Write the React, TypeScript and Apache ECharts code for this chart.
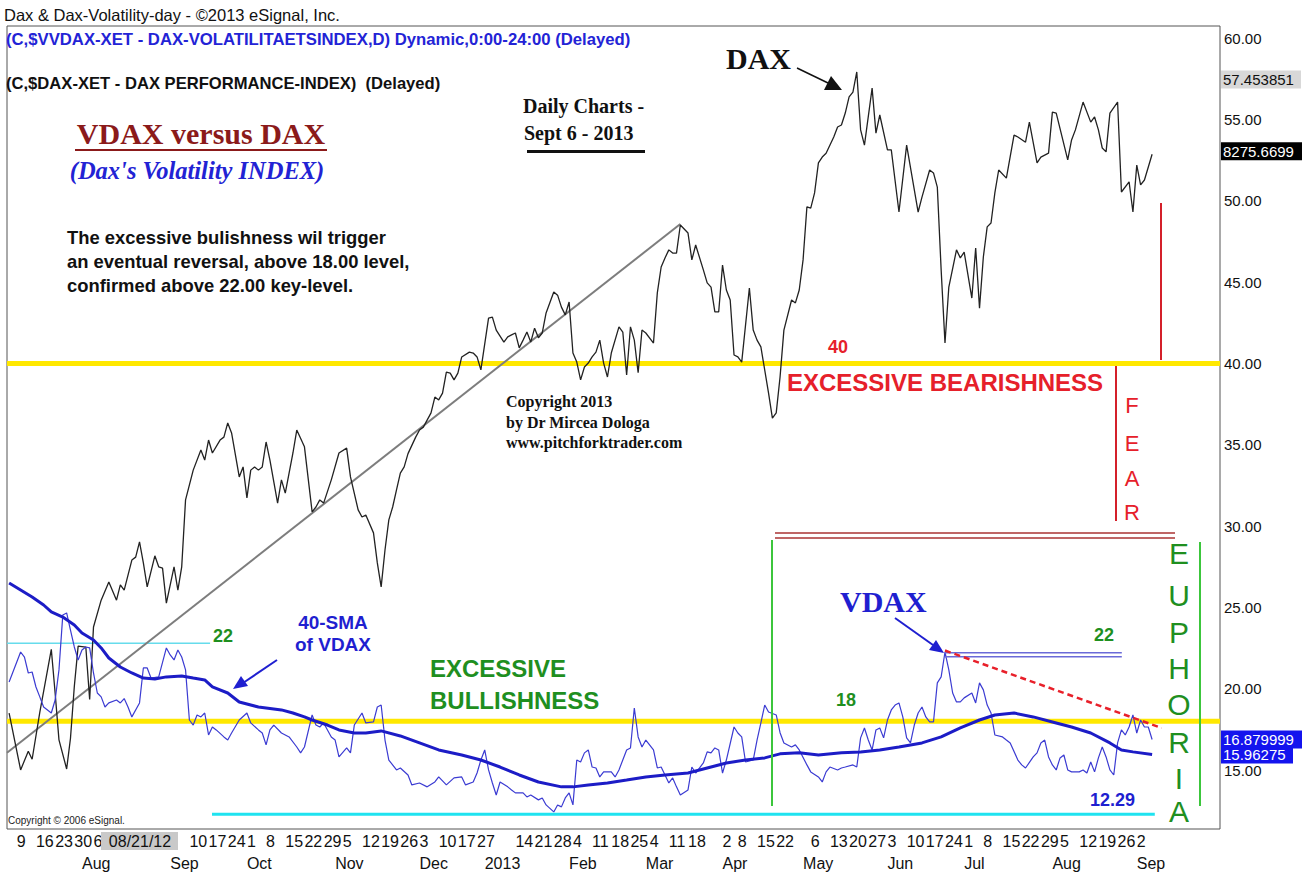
import { useEffect, useRef } from "react";
import * as echarts from "echarts";

// ---- DATA (x = trading-day index, 0 = 9 Jul 2012) ----
const daxDay = [-2,1,3,4,6,9,10,11,13,14,15,16,18,19,20,22,24,26,27,28,30,31,32,33,34,36,37,38,39,41,42,43,44,46,48,49,50,51,53,54,55,56,58,59,60,61,62,63,64,65,66,68,69,70,72,73,75,77,78,79,80,82,84,86,87,89,90,91,93,94,95,96,97,98,99,100,101,102,104,105,106,108,109,110,111,112,113,114,115,116,118,119,120,121,123,124,125,127,128,129,130,131,132,133,134,135,136,137,138,140,141,142,143,144,145,146,147,148,149,150,151,152,153,154,155,157,158,159,160,161,162,163,164,166,167,168,169,170,171,172,173,175,176,177,179,180,181,182,183,184,185,186,187,188,189,191,192,193,194,196,197,198,199,200,202,203,204,205,206,207,208,209,210,211,213,214,215,216,217,218,219,220,221,223,224,225,227,228,230,232,235,236,238,239,240,241,242,243,245,246,247,249,250,251,252,253,254,255,256,258,260,261,263,264,266,267,269,270,271,274,275,276,278,280,281,282,283,284,285,287,288,290,291,292,293,294,296];
const daxClose = [6548,6372,6430,6405,6550,6745,6610,6465,6375,6470,6630,6755,6752,6590,6814,6897,6953,6897,6944,6928,7021,7030,7077,7012,6938,7034,7000,6996,6888,7000,6928,7000,7207,7299,7361,7330,7392,7352,7392,7401,7445,7414,7278,7309,7213,7299,7309,7299,7309,7386,7330,7197,7269,7228,7352,7423,7371,7170,7185,7207,7197,7269,7352,7367,7278,7176,7154,7160,7105,7012,6938,7052,7145,7185,7238,7290,7309,7350,7401,7423,7432,7476,7525,7516,7537,7602,7599,7578,7599,7649,7664,7661,7649,7609,7769,7772,7732,7695,7711,7717,7723,7677,7701,7726,7695,7738,7708,7723,7785,7850,7840,7803,7779,7819,7661,7633,7578,7618,7630,7649,7664,7701,7630,7587,7661,7742,7726,7593,7742,7701,7600,7732,7723,7692,7847,7927,7955,7980,7970,7970,8057,8032,7949,7995,7918,7878,7865,7788,7788,7933,7856,7825,7655,7649,7633,7862,7732,7701,7680,7537,7460,7476,7587,7732,7825,7816,7856,7949,8113,8109,8156,8249,8267,8279,8329,8360,8366,8403,8453,8468,8530,8351,8304,8480,8341,8397,8289,8289,8097,8304,8097,8143,8227,8218,8174,7918,7692,7865,7980,7955,7973,7831,7986,7800,7958,8051,8063,8156,8227,8202,8335,8329,8313,8375,8249,8267,8279,8406,8403,8258,8320,8351,8437,8375,8391,8351,8295,8283,8403,8437,8159,8190,8097,8242,8181,8196,8275.67];

const vdaxDay = [-2,1,2,3,4,5,6,7,9,10,11,12,13,14,15,16,17,18,19,20,21,22,23,24,26,27,28,29,30,32,33,34,35,37,39,40,41,42,43,44,45,46,47,48,49,50,51,52,54,55,56,58,60,61,63,64,65,66,67,69,70,71,73,74,75,77,78,79,80,82,83,84,86,87,88,90,91,93,94,95,96,97,99,100,102,103,105,107,109,110,112,114,116,117,119,120,121,122,123,124,125,126,128,129,130,132,133,134,136,137,138,140,141,142,143,144,145,146,147,148,149,150,151,152,153,155,156,157,159,160,161,162,163,164,166,167,168,170,171,172,173,175,176,177,179,180,181,182,183,184,185,187,188,189,190,192,193,194,195,196,198,199,200,202,203,204,206,207,209,210,211,212,214,215,216,218,219,220,221,222,223,224,225,226,227,228,229,230,231,232,233,234,235,236,237,238,239,240,241,242,243,244,245,246,247,249,250,251,252,253,254,255,257,258,259,261,262,263,265,266,267,268,269,270,271,272,273,274,275,277,278,279,280,281,282,283,284,285,286,287,288,289,290,291,292,293,294,295,296];
const vdaxClose = [20.42,22.26,21.95,20.97,21.03,20.11,19.5,18.88,18.51,19.31,21.16,24.54,24.66,23.61,22.57,21.77,22.38,22.57,22.51,20.97,19.74,19.5,18.88,19.13,19.31,19.13,19.4,18.88,18.27,19.13,21.28,21.28,20.66,20.73,22.51,22.08,21.77,22.38,21.95,21.16,18.08,17.77,18.39,18.27,18.51,17.16,17.65,17.47,17.04,16.85,17.28,18.08,18.51,17.9,17.47,17.28,16.55,17.47,17.77,17.28,17.16,17.04,16.42,16.06,16.42,18.39,17.77,17.65,17.9,17.04,16.85,15.81,16.36,16.06,17.77,18.51,17.9,17.96,18.88,19.0,16.85,15.62,15.01,15.13,14.7,14.09,14.21,13.97,14.27,14.58,14.09,14.52,14.58,14.09,14.27,14.82,15.62,16.24,15.01,14.21,13.47,14.27,13.97,13.78,13.6,13.6,13.35,13.47,13.17,13.29,12.86,12.43,12.86,12.74,13.29,13.6,12.86,15.62,15.5,16.06,16.24,15.19,15.13,14.58,14.89,14.89,14.58,15.01,16.24,16.36,18.82,17.04,16.42,16.85,16.24,15.13,15.19,14.21,14.52,13.97,13.47,13.78,15.19,14.82,15.44,16.12,16.06,16.36,16.24,14.82,15.62,17.65,17.28,17.04,15.5,15.62,16.85,17.9,19.0,18.57,18.39,17.3,16.67,16.42,16.55,16.24,15.32,14.89,14.58,14.27,14.89,15.19,15.01,15.13,15.19,15.32,15.19,16.98,17.59,16.85,16.24,17.47,17.59,16.98,18.08,18.7,19.0,19.13,18.27,16.98,16.67,17.77,18.51,18.88,18.27,17.96,17.96,20.36,20.73,22.26,21.16,19.74,19.19,19.19,19.44,19.74,19.13,20.36,19.93,19.0,18.51,17.16,17.04,16.85,16.67,15.62,15.32,15.13,15.81,16.06,16.67,16.85,15.81,15.32,15.01,15.75,15.93,15.01,14.89,14.89,15.01,14.82,15.5,14.89,15.75,16.42,15.81,15.01,14.7,16.67,17.47,17.16,17.65,18.39,17.28,18.08,17.65,17.65,16.88];

const smaDay = [-2,1,4,7,9,12,15,17,20,22,24,27,30,33,36,39,43,46,49,51,55,58,63,69,72,75,77,81,84,88,91,95,100,105,110,116,121,126,131,136,142,145,149,154,159,164,169,175,180,185,190,195,199,204,209,215,220,225,230,236,241,246,251,255,260,265,270,275,280,285,288,291,296];
const smaValue = [26.5,26.07,25.64,25.15,24.72,24.41,23.92,23.43,23.0,22.51,21.89,21.34,20.97,20.66,20.6,20.73,20.79,20.66,20.54,20.11,19.74,19.19,18.88,18.7,18.51,18.27,18.08,17.77,17.47,17.28,17.28,17.41,17.1,16.67,16.24,15.93,15.62,15.19,14.7,14.27,13.97,13.97,14.09,14.21,14.39,14.58,14.7,14.82,15.13,15.44,15.62,15.75,16.0,16.06,15.93,16.06,16.12,16.24,16.42,16.67,17.04,17.59,18.08,18.39,18.51,18.27,17.96,17.65,17.28,16.67,16.24,16.12,15.96];

// visible day-of-month labels (those under the 08/21/12 cursor box are covered)
const dayTickIdx = [0,5,10,15,20,45,50,55,60,65,70,75,80,85,90,95,100,105,110,115,120,130,135,140,145,150,155,160,165,170,175,184,188,193,198,207,212,217,222,227,232,237,242,247,252,257,262,267,272,277,282,287,292];
const dayTickLabel = ["9","16","23","30","6","10","17","24","1","8","15","22","29","5","12","19","26","3","10","17","27","14","21","28","4","11","18","25","4","11","18","2","8","15","22","6","13","20","27","3","10","17","24","1","8","15","22","29","5","12","19","26","2"];
const monthTickIdx = [17,40,60,83,105,122,144,164,184,205,227,247,270,292];
const monthTickLabel = ["Aug","Sep","Oct","Nov","Dec","2013","Feb","Mar","Apr","May","Jun","Jul","Aug","Sep"];
const priceTicks = [15,20,25,30,35,40,45,50,55,60];

// key levels
const bearLevel = 40;
const bullLevel = 18;
const keyLevel22 = 22.8;
const lowLevel = 12.29;
const vdaxPeak = { day: 242, value: 22.26 };
const trendStart = { day: -2.55, value: 6425 };
const trendEnd = { day: 173, value: 8060 };
const highTag = 57.453851;
const lastDax = 8275.6699;
const lastVdax = 16.879999;
const lastSma = 15.96275;

const X_MIN = -2.55, X_MAX = 313.7;
const Y_MIN = 11.38, Y_MAX = 60.74;
const DAX_MIN = 6189.4, DAX_MAX = 8672.2;

const SANS = '"Liberation Sans", Arial, sans-serif';
const SERIF = '"Liberation Serif", "Times New Roman", serif';

function txt(text: string, x: number, y: number, font: string, fill: string, align = "left", z = 100) {
  return {
    type: "text", x, y, z, silent: true,
    style: { text, font, fill, align, textAlign: align, verticalAlign: "middle", textVerticalAlign: "middle" },
  };
}
function ln(x1: number, y1: number, x2: number, y2: number, stroke: string, lineWidth: number) {
  return { type: "line", z: 100, silent: true, shape: { x1, y1, x2, y2 }, style: { stroke, lineWidth } };
}
function poly(points: number[][], fill: string) {
  return { type: "polygon", z: 100, silent: true, shape: { points }, style: { fill } };
}

export default function App() {
  const ref = useRef<HTMLDivElement>(null);
  useEffect(() => {
    document.body.style.margin = "0";
    const chart = echarts.init(ref.current!, null, { renderer: "svg" });
    const zip = (a: number[], b: number[]) => a.map((d, i) => [d, b[i]]);
    const flat = (v: number, color: string, width: number, z: number, x1 = X_MIN, x2 = X_MAX, type: any = "solid", yAxisIndex = 0) => ({
      type: "line", yAxisIndex, silent: true, symbol: "none", z,
      data: [[x1, v], [x2, v]], lineStyle: { color, width, type },
    });
    const green = "#1f8f1f";
    const red = "#e6202a";
    const blue = "#1f1fd0";
    const graphics: any[] = [
      txt("Dax & Dax-Volatility-day - ©2013 eSignal, Inc.", 4, 15, `16.5px ${SANS}`, "#111"),
      txt("(C,$VVDAX-XET - DAX-VOLATILITAETSINDEX,D) Dynamic,0:00-24:00 (Delayed)", 6, 39, `bold 16.7px ${SANS}`, "#2323d6"),
      txt("(C,$DAX-XET - DAX PERFORMANCE-INDEX)  (Delayed)", 6, 83, `bold 16.6px ${SANS}`, "#111"),
      txt("VDAX versus DAX", 201, 133, `bold 30px ${SERIF}`, "#8b1a1a", "center"),
      ln(75, 150, 327, 150, "#8b1a1a", 2),
      txt("(Dax's Volatility INDEX)", 197, 170, `italic bold 24.5px ${SERIF}`, "#2222d4", "center"),
      txt("The excessive bulishness wil trigger", 67, 237, `bold 18.4px ${SANS}`, "#111"),
      txt("an eventual reversal, above 18.00 level,", 67, 261, `bold 18.4px ${SANS}`, "#111"),
      txt("confirmed above 22.00 key-level.", 67, 285, `bold 18.4px ${SANS}`, "#111"),
      txt("Daily Charts -", 523, 106, `bold 20px ${SERIF}`, "#111"),
      txt("Sept 6 - 2013", 524, 133, `bold 20px ${SERIF}`, "#111"),
      { type: "rect", z: 100, silent: true, shape: { x: 527, y: 150, width: 118, height: 3 }, style: { fill: "#111" } },
      txt("DAX", 726, 58, `bold 30px ${SERIF}`, "#111"),
      ln(797, 68, 828, 83, "#111", 1.5),
      poly([[842, 90], [824, 90], [831, 76]], "#111"),
      txt("Copyright 2013", 506, 401, `bold 16px ${SERIF}`, "#111"),
      txt("by Dr Mircea Dologa", 506, 422, `bold 16px ${SERIF}`, "#111"),
      txt("www.pitchforktrader.com", 506, 442, `bold 16px ${SERIF}`, "#111"),
      txt("40", 828, 347, `bold 18px ${SANS}`, red),
      txt("EXCESSIVE BEARISHNESS", 787, 382, `bold 24px ${SANS}`, red),
      ln(1161, 203, 1161, 360, "#d4202a", 2),
      ln(1116, 366, 1116, 521, "#d4202a", 2),
      ...["F", "E", "A", "R"].map((c, i) => txt(c, 1132, [405, 443, 478, 512][i], `22px ${SANS}`, red, "center")),
      ln(775, 533, 1175, 533, "#a33", 1.5),
      ln(775, 538, 1175, 538, "#a33", 1.5),
      ln(772, 540, 772, 806, "#3cc63c", 2),
      ln(1200, 542, 1200, 806, "#3cc63c", 2),
      ...["E", "U", "P", "H", "O", "R", "I", "A"].map((c, i) => txt(c, 1179, [553, 595, 632, 668, 704, 742, 778, 811][i], `30px ${SANS}`, green, "center")),
      txt("EXCESSIVE", 430, 668, `bold 24px ${SANS}`, green),
      txt("BULLISHNESS", 430, 700, `bold 24px ${SANS}`, green),
      txt("22", 213, 636, `bold 18px ${SANS}`, green),
      txt("40-SMA", 333, 622, `bold 19px ${SANS}`, blue, "center"),
      txt("of VDAX", 333, 644, `bold 19px ${SANS}`, blue, "center"),
      ln(277, 660, 243, 683, blue, 2),
      poly([[233, 689], [248, 686], [241, 676]], blue),
      txt("18", 836, 700, `bold 18px ${SANS}`, green),
      txt("VDAX", 840, 601, `bold 30px ${SERIF}`, blue),
      ln(895, 618, 933, 645, blue, 2),
      poly([[944, 653], [929, 650], [936, 640]], blue),
      txt("22", 1094, 635, `bold 18px ${SANS}`, green),
      txt("12.29", 1090, 800, `bold 18px ${SANS}`, blue),
      txt("Copyright © 2006 eSignal.", 8, 820, `10px ${SANS}`, "#222"),
      { type: "rect", z: 100, silent: true, shape: { x: 101, y: 832, width: 77, height: 18 }, style: { fill: "#c9c9c9" } },
      txt("08/21/12", 140, 841, `16px ${SANS}`, "#111", "center", 105),
    ];

    chart.setOption({
      animation: false,
      backgroundColor: "#fff",
      grid: { left: 7, right: 96, top: 26, bottom: 45, show: true, borderColor: "#555", borderWidth: 1 },
      xAxis: [
        {
          type: "value", min: X_MIN, max: X_MAX, position: "bottom",
          axisLine: { show: false }, axisTick: { show: false }, splitLine: { show: false },
          axisLabel: {
            customValues: dayTickIdx, align: "left", margin: 4, color: "#111", fontSize: 16, fontFamily: SANS,
            formatter: (v: number) => dayTickLabel[dayTickIdx.indexOf(v)] ?? "",
          },
        },
        {
          type: "value", min: X_MIN, max: X_MAX, position: "bottom", offset: 22,
          axisLine: { show: false }, axisTick: { show: false }, splitLine: { show: false },
          axisLabel: {
            customValues: monthTickIdx, align: "left", margin: 4, color: "#111", fontSize: 16, fontFamily: SANS,
            formatter: (v: number) => monthTickLabel[monthTickIdx.indexOf(v)] ?? "",
          },
        },
      ],
      yAxis: [
        {
          type: "value", position: "right", min: Y_MIN, max: Y_MAX,
          axisLine: { show: false }, axisTick: { show: false }, splitLine: { show: false },
          axisLabel: { customValues: priceTicks, margin: 4, color: "#111", fontSize: 15, fontFamily: SANS, formatter: (v: number) => v.toFixed(2) },
        },
        { type: "value", show: false, min: DAX_MIN, max: DAX_MAX },
      ],
      series: [
        flat(bearLevel, "#ffe800", 5, 1),
        flat(bullLevel, "#ffe800", 5, 1),
        flat(keyLevel22, "#66dcec", 1.5, 2, X_MIN, 50.4),
        flat(lowLevel, "#1fe3f0", 3, 2, 50.9, 296.7),
        {
          type: "line", yAxisIndex: 1, silent: true, symbol: "none", z: 3,
          data: [[trendStart.day, trendStart.value], [trendEnd.day, trendEnd.value]],
          lineStyle: { color: "#7d7d7d", width: 2 },
        },
        { type: "line", yAxisIndex: 1, silent: true, symbol: "none", z: 4, data: zip(daxDay, daxClose), lineStyle: { color: "#222", width: 1.3 } },
        { type: "line", yAxisIndex: 0, silent: true, symbol: "none", z: 5, data: zip(vdaxDay, vdaxClose), lineStyle: { color: "#3b3bd2", width: 1.2 } },
        { type: "line", yAxisIndex: 0, silent: true, symbol: "none", z: 6, data: zip(smaDay, smaValue), lineStyle: { color: "#1c1cc6", width: 3 } },
        flat(22.22, "#6a6ad8", 1.5, 7, vdaxPeak.day, 288.1),
        flat(21.97, "#6a6ad8", 1.5, 7, vdaxPeak.day, 288.1),
        {
          type: "line", yAxisIndex: 0, silent: true, symbol: "none", z: 8,
          data: [[vdaxPeak.day, 22.35], [298.5, 17.59]],
          lineStyle: { color: "#e8202a", width: 2.5, type: [6, 4] },
        },
      ],
    });

    const py = (axis: number, v: number) => chart.convertToPixel({ yAxisIndex: axis } as any, v) as unknown as number;
    const tag = (value: string, y: number, bg: string, fg: string, w: number) => [
      { type: "rect", z: 110, silent: true, shape: { x: 1221, y: y - 9, width: w, height: 18 }, style: { fill: bg } },
      txt(value, 1223, y, `15px ${SANS}`, fg, "left", 120),
    ];
    const tags = [
      ...tag(String(highTag), py(0, highTag), "#d8d8d8", "#111", 80),
      ...tag(String(lastDax), py(1, lastDax) - 3, "#000", "#fff", 81),
      ...tag(String(lastVdax), py(0, lastVdax), "#1414ee", "#fff", 81),
      ...tag(String(lastSma), py(0, lastSma), "#1414ee", "#fff", 72),
    ];
    chart.setOption({ graphic: [...graphics, ...tags] });
    return () => chart.dispose();
  }, []);
  return <div ref={ref} style={{ width: 1316, height: 874, background: "#fff" }} />;
}
